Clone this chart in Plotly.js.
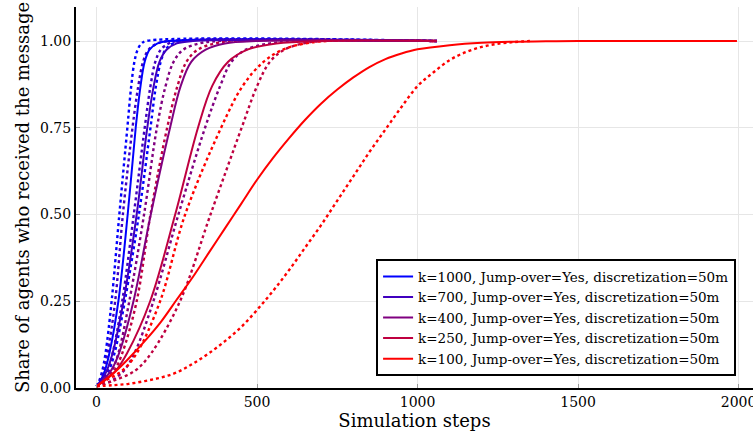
<!DOCTYPE html>
<html>
<head>
<meta charset="utf-8">
<script src="https://cdn.plot.ly/plotly-3.0.1.min.js"></script>
<style>html,body{margin:0;padding:0;background:#fff;}#chart{width:753px;height:438px;}</style>
</head>
<body>
<div id="chart"></div>
<script>
// Share levels at which the steep curves' step values were read
const shareLevels = [0.005, 0.02, 0.05, 0.1, 0.25, 0.5, 0.75, 0.87, 0.94, 0.975, 0.993, 1.0, 1.0];

// Solid curves (Jump-over=Yes, discretization=50m): steps at each share level
const solid_k1000 = [0, 12, 26, 40, 68, 97, 122, 137, 150, 165, 190, 225, 1060];
const solid_k700  = [0, 14, 32, 50, 84, 125, 158, 178, 196, 218, 250, 300, 1060];
const solid_k400  = [0, 18, 45, 70, 115, 169, 229, 262, 295, 340, 400, 500, 1060];
const solid_k250  = [0, 22, 60, 95, 167, 245, 316, 360, 410, 470, 560, 700, 1060];

// k=100 solid curve, read on its own step grid
const solid_k100_steps = [0, 50, 100, 150, 200, 250, 300, 350, 400, 450, 500, 550, 600, 650, 700, 750, 800, 850, 900, 950, 1000, 1100, 1200, 1300, 1400, 1500, 1700, 1995];
const solid_k100_share = [0.005, 0.04, 0.085, 0.135, 0.19, 0.255, 0.32, 0.39, 0.46, 0.53, 0.6, 0.663, 0.72, 0.773, 0.82, 0.86, 0.895, 0.925, 0.948, 0.964, 0.976, 0.988, 0.995, 0.998, 0.999, 1.0, 1.0, 1.0];

// Dotted curves (not in legend): steps at each share level
const dot_k1000a = [0, 8, 18, 28, 47, 71, 96, 108, 118, 128, 140, 155, 1060];
const dot_k1000b = [0, 16, 38, 56, 88, 132, 168, 185, 200, 215, 238, 262, 1060];
const dot_k700a  = [0, 10, 22, 34, 58, 82, 112, 130, 145, 162, 190, 225, 1060];
const dot_k700b  = [0, 14, 34, 50, 80, 116, 150, 168, 183, 200, 225, 252, 1060];
const dot_k400a  = [0, 25, 48, 68, 102, 148, 188, 215, 240, 270, 320, 380, 1060];
const dot_k400b  = [0, 45, 85, 118, 177, 255, 338, 385, 420, 465, 540, 620, 1060];
const dot_k250a  = [0, 20, 55, 80, 125, 168, 220, 252, 280, 315, 370, 430, 1060];
const dot_k250b  = [0, 50, 120, 170, 260, 355, 452, 500, 540, 585, 645, 700, 1060];
const dot_k100a  = [0, 25, 80, 125, 198, 276, 388, 455, 520, 580, 650, 720, 1060];

// Slowest dotted k=100 curve, read on its own step grid
const dot_k100b_steps = [0, 50, 100, 150, 200, 250, 300, 350, 400, 450, 500, 550, 600, 650, 700, 750, 800, 850, 900, 950, 1000, 1050, 1100, 1150, 1200, 1250, 1300, 1350];
const dot_k100b_share = [0.005, 0.008, 0.012, 0.02, 0.03, 0.045, 0.07, 0.1, 0.135, 0.175, 0.225, 0.28, 0.34, 0.405, 0.47, 0.54, 0.61, 0.68, 0.745, 0.81, 0.87, 0.91, 0.945, 0.968, 0.983, 0.992, 0.997, 1.0];

const xTicks = [0, 500, 1000, 1500, 2000];
const xTickText = ["0", "500", "1000", "1500", "2000"];
const yTicks = [0, 0.25, 0.5, 0.75, 1.0];
const yTickText = ["0.00", "0.25", "0.50", "0.75", "1.00"];

const legendNames = [
  "k=1000, Jump-over=Yes, discretization=50m",
  "k=700, Jump-over=Yes, discretization=50m",
  "k=400, Jump-over=Yes, discretization=50m",
  "k=250, Jump-over=Yes, discretization=50m",
  "k=100, Jump-over=Yes, discretization=50m"
];
const colors = ["#0000ff", "#4000bf", "#800080", "#bf0040", "#ff0000"];

const dotted = [
  [dot_k1000a, shareLevels, 0], [dot_k1000b, shareLevels, 0],
  [dot_k700a, shareLevels, 1], [dot_k700b, shareLevels, 1],
  [dot_k400a, shareLevels, 2], [dot_k400b, shareLevels, 2],
  [dot_k250a, shareLevels, 3], [dot_k250b, shareLevels, 3],
  [dot_k100a, shareLevels, 4], [dot_k100b_steps, dot_k100b_share, 4]
];
const solid = [
  [solid_k1000, shareLevels, 0], [solid_k700, shareLevels, 1],
  [solid_k400, shareLevels, 2], [solid_k250, shareLevels, 3],
  [solid_k100_steps, solid_k100_share, 4]
];

const traces = [];
dotted.forEach(([xs, ys, i]) => {
  traces.push({
    x: xs, y: ys, type: "scatter", mode: "lines", showlegend: false, hoverinfo: "skip",
    line: {color: colors[i], width: 2.4, dash: "3px,3px", shape: "spline", smoothing: 1}
  });
});
solid.forEach(([xs, ys, i]) => {
  traces.push({
    x: xs, y: ys, type: "scatter", mode: "lines", name: legendNames[i],
    line: {color: colors[i], width: 2, shape: "spline", smoothing: 1}
  });
});

const fontFam = "DejaVu Serif";
const layout = {
  width: 753, height: 438,
  margin: {l: 76, r: 0, t: 7, b: 50},
  paper_bgcolor: "#fff", plot_bgcolor: "#fff",
  font: {family: fontFam, color: "#000", size: 14},
  showlegend: true,
  legend: {
    x: 0.975, y: 0.031, xanchor: "right", yanchor: "bottom",
    bgcolor: "#fff", bordercolor: "#000", borderwidth: 2,
    font: {family: fontFam, size: 13.5, color: "#000"},
    tracegroupgap: 0
  },
  xaxis: {
    range: [-64, 2045],
    tickvals: xTicks, ticktext: xTickText,
    ticklabeloverflow: "allow",
    showgrid: true, gridcolor: "#e6e6e6", gridwidth: 1,
    zeroline: false, showline: true, linecolor: "#000", linewidth: 2,
    ticks: "inside", ticklen: 4, tickcolor: "#999", tickwidth: 1,
    tickfont: {family: fontFam, size: 14},
    title: {text: "Simulation steps", font: {family: fontFam, size: 18}, standoff: 6}
  },
  yaxis: {
    range: [0, 1.098],
    tickvals: yTicks, ticktext: yTickText,
    showgrid: true, gridcolor: "#e6e6e6", gridwidth: 1,
    zeroline: false, showline: true, linecolor: "#000", linewidth: 2,
    ticks: "inside", ticklen: 4, tickcolor: "#999", tickwidth: 1,
    tickfont: {family: fontFam, size: 14},
    title: {text: "Share of agents who received the message", font: {family: fontFam, size: 18}, standoff: 6}
  }
};

Plotly.newPlot("chart", traces, layout, {displayModeBar: false, staticPlot: true});
</script>
</body>
</html>
